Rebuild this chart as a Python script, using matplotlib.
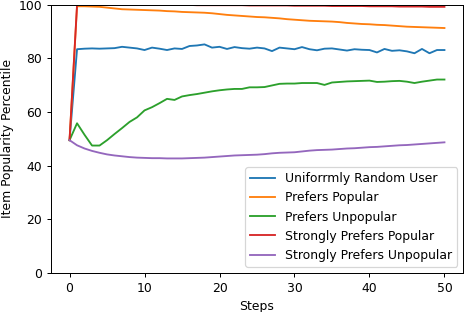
import numpy as np
import matplotlib
matplotlib.use('Agg')
import matplotlib.pyplot as plt

# Passos da simulação
steps = np.arange(51)

# Percentil de popularidade
uniform = [49.5, 83.4, 83.6, 83.7, 83.6, 83.7, 83.8, 84.3, 84.0, 83.7,
           83.1, 84.0, 83.6, 83.1, 83.7, 83.5, 84.6, 84.8, 85.2, 84.0,
           84.3, 83.5, 84.2, 83.8, 83.6, 84.0, 83.7, 82.7, 84.0, 83.7,
           83.4, 84.2, 83.4, 83.0, 83.6, 83.7, 83.3, 82.9, 83.4, 83.2,
           83.1, 82.2, 83.5, 82.8, 83.0, 82.6, 81.9, 83.5, 81.9, 83.1, 83.1]
popular = [49.5, 99.4, 99.4, 99.3, 99.2, 98.9, 98.6, 98.3, 98.2, 98.1,
           98.0, 97.9, 97.8, 97.6, 97.5, 97.3, 97.2, 97.1, 97.0, 96.8,
           96.5, 96.2, 96.0, 95.8, 95.6, 95.4, 95.3, 95.1, 94.9, 94.6,
           94.4, 94.2, 94.0, 93.9, 93.8, 93.7, 93.5, 93.2, 93.0, 92.8,
           92.7, 92.5, 92.4, 92.2, 92.0, 91.8, 91.7, 91.6, 91.5, 91.4, 91.3]
unpopular = [49.5, 55.8, 51.5, 47.5, 47.5, 49.5, 51.8, 54.0, 56.3, 58.0,
             60.6, 61.8, 63.3, 64.9, 64.5, 65.8, 66.3, 66.7, 67.2, 67.7,
             68.1, 68.4, 68.6, 68.6, 69.2, 69.2, 69.3, 69.9, 70.5, 70.6,
             70.6, 70.8, 70.8, 70.8, 70.1, 71.0, 71.2, 71.4, 71.5, 71.6,
             71.7, 71.2, 71.3, 71.5, 71.6, 71.3, 70.8, 71.3, 71.7, 72.1, 72.1]
strong_popular = [49.5, 99.9, 99.9, 99.9, 99.9, 99.9, 99.9, 99.9, 99.9, 99.9,
                  99.9, 99.9, 99.9, 99.9, 99.9, 99.9, 99.9, 99.8, 99.8, 99.8,
                  99.8, 99.8, 99.8, 99.8, 99.7, 99.7, 99.7, 99.7, 99.7, 99.7,
                  99.6, 99.6, 99.6, 99.6, 99.6, 99.5, 99.5, 99.5, 99.5, 99.5,
                  99.4, 99.4, 99.4, 99.4, 99.3, 99.3, 99.3, 99.3, 99.2, 99.2, 99.2]
strong_unpopular = [49.5, 47.6, 46.4, 45.5, 44.8, 44.2, 43.8, 43.5, 43.2, 43.0,
                    42.9, 42.8, 42.8, 42.7, 42.7, 42.7, 42.8, 42.9, 43.0, 43.2,
                    43.4, 43.6, 43.8, 43.9, 44.0, 44.1, 44.3, 44.6, 44.8, 44.9,
                    45.0, 45.3, 45.6, 45.8, 45.9, 46.0, 46.2, 46.4, 46.5, 46.7,
                    46.9, 47.0, 47.2, 47.4, 47.6, 47.7, 47.9, 48.1, 48.3, 48.5, 48.7]

labels = ['Uniforrmly Random User', 'Prefers Popular', 'Prefers Unpopular',
          'Strongly Prefers Popular', 'Strongly Prefers Unpopular']

# dpi menor para reduzir fontes e linhas na mesma proporção do original
dpi = 89
fig = plt.figure(figsize=(466 / dpi, 312 / dpi), dpi=dpi)
ax = fig.add_axes([0.109, 0.125, 0.885, 0.86])

for serie, label in zip([uniform, popular, unpopular, strong_popular, strong_unpopular], labels):
    ax.plot(steps, serie, label=label)

ax.set_ylim(0, 100)
ax.set_xlabel('Steps')
ax.set_ylabel('Item Popularity Percentile')
ax.legend(loc='lower right')

fig.savefig('out.png', dpi=dpi)
